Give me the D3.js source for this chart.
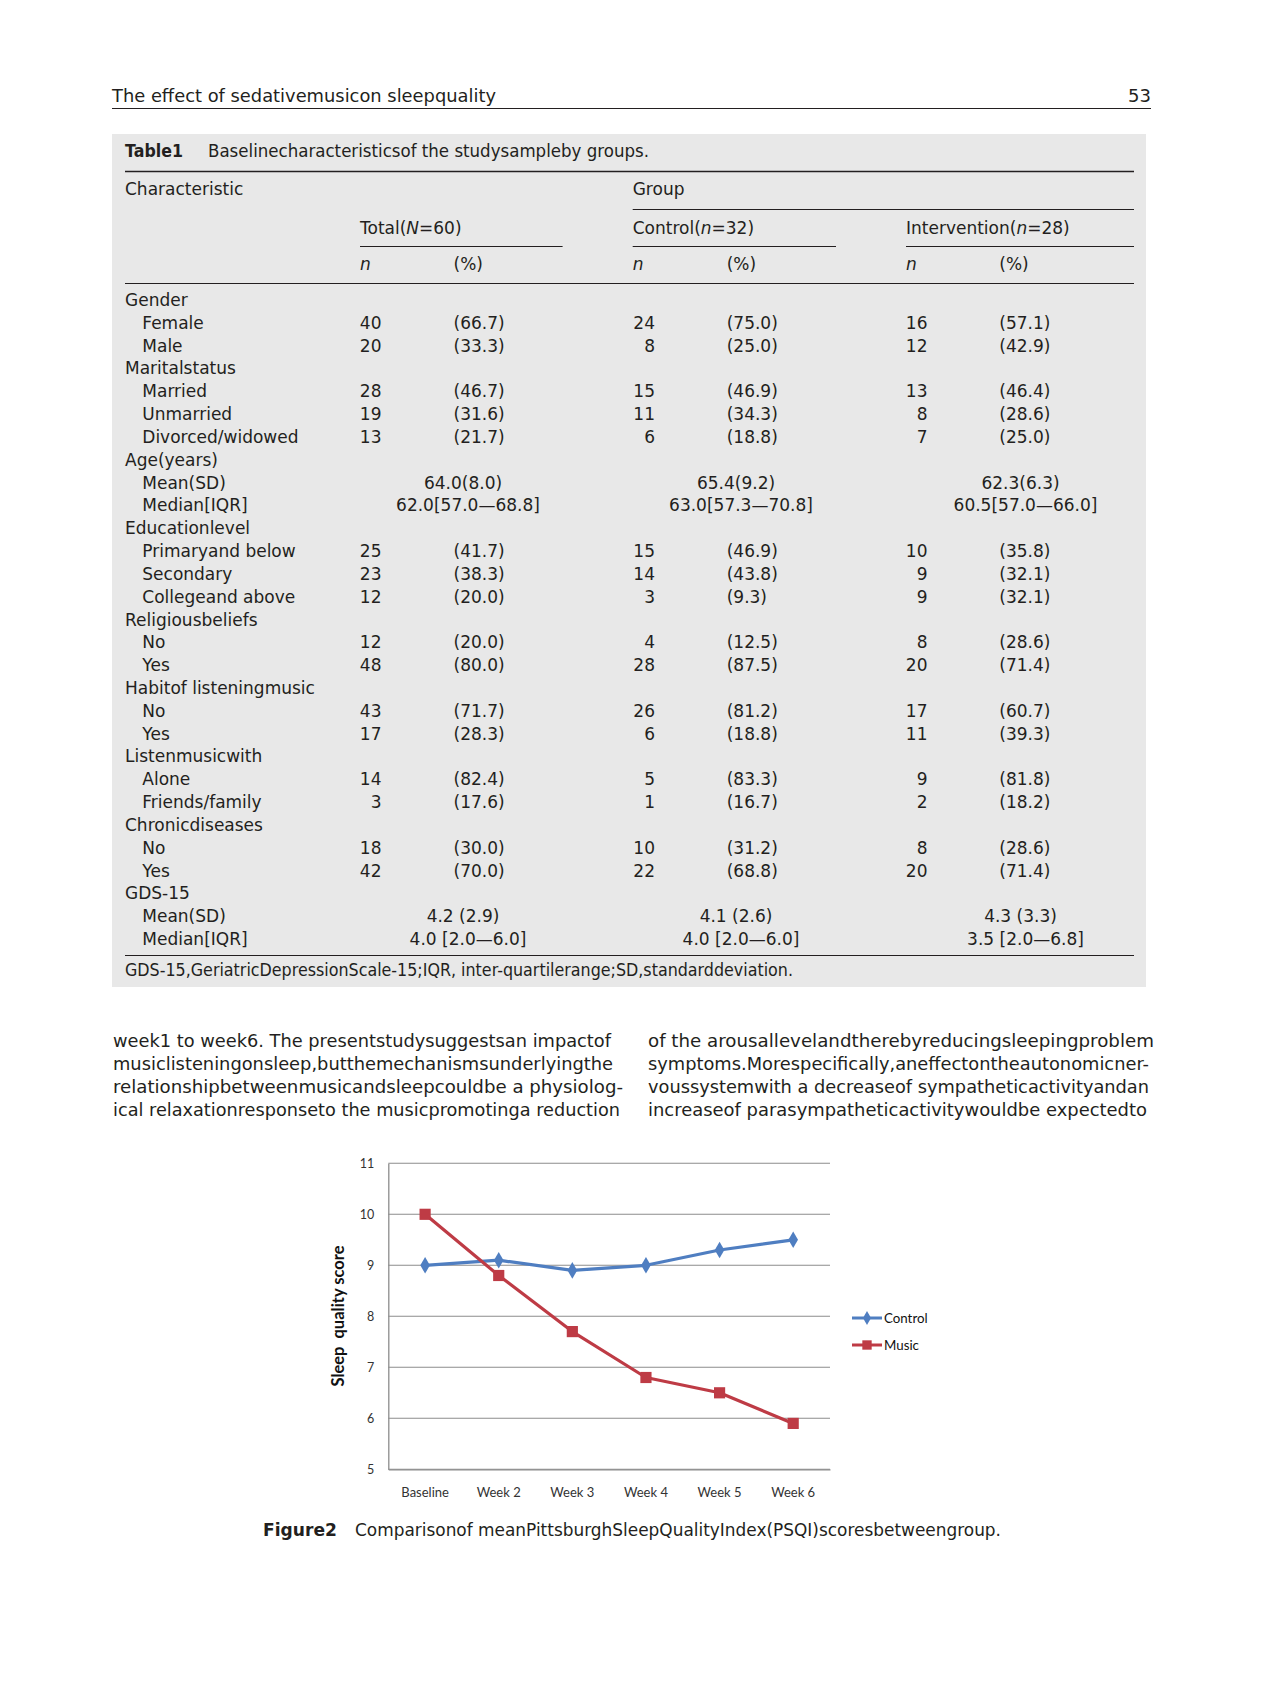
<!DOCTYPE html>
<html>
<head>
<meta charset="utf-8">
<script src="https://cdn.jsdelivr.net/npm/d3@7"></script>
<style>
  html, body { margin: 0; padding: 0; background: #ffffff; }
  svg { display: block; }
</style>
</head>
<body>
<svg id="page" width="1276" height="1690"></svg>
<script>
// ---------------- DATA ----------------
const headerTitle = "The effect of sedativemusicon sleepquality";
const pageNumber = "53";
const tableTitleBold = "Table1";
const tableTitleText = "Baselinecharacteristicsof the studysampleby groups.";
const colHeaders = ["Total(N=60)", "Control(n=32)", "Intervention(n=28)"];
const rowLabels = [
  "Gender", "Female", "Male",
  "Maritalstatus", "Married", "Unmarried", "Divorced/widowed",
  "Age(years)", "Mean(SD)", "Median[IQR]",
  "Educationlevel", "Primaryand below", "Secondary", "Collegeand above",
  "Religiousbeliefs", "No", "Yes",
  "Habitof listeningmusic", "No", "Yes",
  "Listenmusicwith", "Alone", "Friends/family",
  "Chronicdiseases", "No", "Yes",
  "GDS-15", "Mean(SD)", "Median[IQR]"
];
const rowLevels = [0,1,1, 0,1,1,1, 0,1,1, 0,1,1,1, 0,1,1, 0,1,1, 0,1,1, 0,1,1, 0,1,1];
const totalN   = ["","40","20", "","28","19","13", "","","", "","25","23","12", "","12","48", "","43","17", "","14","3", "","18","42", "","",""];
const totalPct = ["","(66.7)","(33.3)", "","(46.7)","(31.6)","(21.7)", "","","", "","(41.7)","(38.3)","(20.0)", "","(20.0)","(80.0)", "","(71.7)","(28.3)", "","(82.4)","(17.6)", "","(30.0)","(70.0)", "","",""];
const controlN   = ["","24","8", "","15","11","6", "","","", "","15","14","3", "","4","28", "","26","6", "","5","1", "","10","22", "","",""];
const controlPct = ["","(75.0)","(25.0)", "","(46.9)","(34.3)","(18.8)", "","","", "","(46.9)","(43.8)","(9.3)", "","(12.5)","(87.5)", "","(81.2)","(18.8)", "","(83.3)","(16.7)", "","(31.2)","(68.8)", "","",""];
const interN   = ["","16","12", "","13","8","7", "","","", "","10","9","9", "","8","20", "","17","11", "","9","2", "","8","20", "","",""];
const interPct = ["","(57.1)","(42.9)", "","(46.4)","(28.6)","(25.0)", "","","", "","(35.8)","(32.1)","(32.1)", "","(28.6)","(71.4)", "","(60.7)","(39.3)", "","(81.8)","(18.2)", "","(28.6)","(71.4)", "","",""];
const summaryRows = [8, 9, 27, 28];
const totalSummary   = ["64.0(8.0)", "62.0[57.0—68.8]", "4.2 (2.9)", "4.0 [2.0—6.0]"];
const controlSummary = ["65.4(9.2)", "63.0[57.3—70.8]", "4.1 (2.6)", "4.0 [2.0—6.0]"];
const interSummary   = ["62.3(6.3)", "60.5[57.0—66.0]", "4.3 (3.3)", "3.5 [2.0—6.8]"];
const tableFootnote = "GDS-15,GeriatricDepressionScale-15;IQR, inter-quartilerange;SD,standarddeviation.";

const leftParagraph = [
  "week1 to week6. The presentstudysuggestsan impactof",
  "musiclisteningonsleep,butthemechanismsunderlyingthe",
  "relationshipbetweenmusicandsleepcouldbe a physiolog-",
  "ical relaxationresponseto the musicpromotinga reduction"
];
const rightParagraph = [
  "of the arousallevelandtherebyreducingsleepingproblem",
  "symptoms.Morespecifically,aneffectontheautonomicner-",
  "voussystemwith a decreaseof sympatheticactivityandan",
  "increaseof parasympatheticactivitywouldbe expectedto"
];

const categories = ["Baseline", "Week 2", "Week 3", "Week 4", "Week 5", "Week 6"];
const controlScores = [9.0, 9.1, 8.9, 9.0, 9.3, 9.5];
const musicScores = [10.0, 8.8, 7.7, 6.8, 6.5, 5.9];
const seriesNames = ["Control", "Music"];
const yTicks = [5, 6, 7, 8, 9, 10, 11];
const yAxisTitle = "Sleep  quality score";
const figureBold = "Figure2";
const figureText = "Comparisonof meanPittsburghSleepQualityIndex(PSQI)scoresbetweengroup.";

// ---------------- DRAW ----------------
const svg = d3.select("#page");
const FONT = "'DejaVu Sans', sans-serif";
const CFONT = "Lato, 'Open Sans', sans-serif";
const INK = "#231f20";

// running header
svg.append("text").attr("x", 112).attr("y", 102).attr("font-family", FONT).attr("font-size", 18)
  .attr("fill", INK).attr("textLength", 384).attr("lengthAdjust", "spacingAndGlyphs").text(headerTitle);
svg.append("text").attr("x", 1151).attr("y", 102).attr("text-anchor", "end").attr("font-family", FONT)
  .attr("font-size", 18).attr("fill", INK).text(pageNumber);
svg.append("line").attr("x1", 112).attr("x2", 1151).attr("y1", 108.5).attr("y2", 108.5)
  .attr("stroke", INK).attr("stroke-width", 1);

// table background
svg.append("rect").attr("x", 112).attr("y", 134).attr("width", 1034).attr("height", 853).attr("fill", "#e8e8e8");

const T = svg.append("g").attr("font-family", FONT).attr("font-size", 17).attr("fill", INK);
T.append("text").attr("x", 125).attr("y", 157).attr("font-weight", "bold")
  .attr("textLength", 58).attr("lengthAdjust", "spacingAndGlyphs").text(tableTitleBold);
T.append("text").attr("x", 208).attr("y", 157)
  .attr("textLength", 441).attr("lengthAdjust", "spacingAndGlyphs").text(tableTitleText);

const hline = (x1, x2, y, w) => svg.append("line").attr("x1", x1).attr("x2", x2).attr("y1", y).attr("y2", y)
  .attr("stroke", INK).attr("stroke-width", w);
hline(125, 1134, 171.5, 1.6);
T.append("text").attr("x", 125).attr("y", 195).text("Characteristic");
T.append("text").attr("x", 632.7).attr("y", 195).text("Group");
hline(632.7, 1134, 209.5, 1);

const colLeft = [360, 632.7, 906];
const colLineEnd = [562.6, 836, 1134];
const nRight = [381.5, 655, 927.5];
const pctLeft = [453.5, 726.7, 999.3];
const sumCenter = [465.5, 738.5, 1023];

colHeaders.forEach((h, i) => {
  const m = h.match(/^(.*\()([Nn])(=\d+\))$/);
  const t = T.append("text").attr("x", colLeft[i]).attr("y", 233.5);
  t.append("tspan").text(m[1]);
  t.append("tspan").attr("font-style", "italic").text(m[2]);
  t.append("tspan").text(m[3]);
  hline(colLeft[i], colLineEnd[i], 246.5, 1);
  T.append("text").attr("x", colLeft[i]).attr("y", 270).attr("font-style", "italic").text("n");
  T.append("text").attr("x", pctLeft[i]).attr("y", 270).text("(%)");
});
hline(125, 1134, 283.5, 1);

const rowY = d3.scaleLinear().domain([0, rowLabels.length - 1]).range([306, 945]);
T.selectAll("text.lab").data(rowLabels).join("text").attr("class", "lab")
  .attr("x", (d, i) => rowLevels[i] ? 142.3 : 125).attr("y", (d, i) => rowY(i)).text(d => d);

[[totalN, totalPct], [controlN, controlPct], [interN, interPct]].forEach(([ns, ps], c) => {
  T.selectAll("text.n" + c).data(ns).join("text").attr("class", "n" + c)
    .attr("x", nRight[c]).attr("y", (d, i) => rowY(i)).attr("text-anchor", "end").text(d => d);
  T.selectAll("text.p" + c).data(ps).join("text").attr("class", "p" + c)
    .attr("x", pctLeft[c]).attr("y", (d, i) => rowY(i)).text(d => d);
});
[totalSummary, controlSummary, interSummary].forEach((vals, c) => {
  T.selectAll("text.s" + c).data(vals).join("text").attr("class", "s" + c)
    .attr("x", (d, i) => sumCenter[c] + (i % 2 === 0 ? -2.5 : 2.5))
    .attr("y", (d, i) => rowY(summaryRows[i])).attr("text-anchor", "middle").text(d => d);
});
hline(125, 1134, 955.5, 1);
T.append("text").attr("x", 125).attr("y", 976)
  .attr("textLength", 668).attr("lengthAdjust", "spacingAndGlyphs").text(tableFootnote);

// body paragraphs
const P = svg.append("g").attr("font-family", FONT).attr("font-size", 18).attr("fill", INK);
const leftEnds = [611, 613, 623, 620];
const rightEnds = [1154, 1149, 1149, 1147];
P.selectAll("text.lp").data(leftParagraph).join("text").attr("class", "lp")
  .attr("x", 113).attr("y", (d, i) => 1047 + i * 22.9)
  .attr("textLength", (d, i) => leftEnds[i] - 113).attr("lengthAdjust", "spacingAndGlyphs").text(d => d);
P.selectAll("text.rp").data(rightParagraph).join("text").attr("class", "rp")
  .attr("x", 648).attr("y", (d, i) => 1047 + i * 22.9)
  .attr("textLength", (d, i) => rightEnds[i] - 648).attr("lengthAdjust", "spacingAndGlyphs").text(d => d);

// ---------------- CHART ----------------
const x = d3.scaleBand().domain(categories).range([388.3, 830]).padding(0);
const y = d3.scaleLinear().domain([5, 11]).range([1469.3, 1163.3]);
const GRID = "#8c8c8c";
const C = svg.append("g");

// gridlines
C.selectAll("line.grid").data(yTicks).join("line").attr("class", "grid")
  .attr("x1", 388.3).attr("x2", 830).attr("y1", d => y(d)).attr("y2", d => y(d))
  .attr("stroke", GRID).attr("stroke-width", 1.1);

// y axis
const yAxis = C.append("g").attr("transform", "translate(388.3,0)")
  .call(d3.axisLeft(y).tickValues(yTicks).tickSize(0).tickPadding(14).tickFormat(d3.format("d")));
yAxis.select(".domain").attr("stroke", GRID).attr("stroke-width", 1.3);
yAxis.selectAll("text").attr("font-family", CFONT).attr("font-size", 12.5).attr("fill", "#333");

// x axis labels
const xAxis = C.append("g").attr("transform", "translate(0,1469.3)")
  .call(d3.axisBottom(x).tickSize(0).tickPadding(18));
xAxis.select(".domain").attr("stroke", GRID).attr("stroke-width", 1.3);
xAxis.selectAll("text").attr("font-family", CFONT).attr("font-size", 13).attr("fill", "#333");

// y title
C.append("text").attr("transform", "translate(344,1316) rotate(-90)").attr("text-anchor", "middle")
  .attr("font-family", CFONT).attr("font-weight", "bold").attr("font-size", 16.5).attr("fill", "#111")
  .attr("xml:space", "preserve").style("white-space", "pre").text(yAxisTitle);

const colors = ["#4f7ec1", "#be3b45"];
const symbols = [d3.symbolDiamond, d3.symbolSquare];
const symSizes = [80, 125];
const line = d3.line().x((d, i) => x(categories[i]) + x.bandwidth() / 2).y(d => y(d));
[controlScores, musicScores].forEach((vals, s) => {
  C.append("path").datum(vals).attr("d", line).attr("fill", "none")
    .attr("stroke", colors[s]).attr("stroke-width", 3.2).attr("stroke-linejoin", "round");
  C.selectAll("path.m" + s).data(vals).join("path").attr("class", "m" + s)
    .attr("transform", (d, i) => `translate(${x(categories[i]) + x.bandwidth() / 2},${y(d)})`)
    .attr("d", d3.symbol().type(symbols[s]).size(symSizes[s])).attr("fill", colors[s]);
});

// legend
const legendY = d3.scalePoint().domain(seriesNames).range([1318, 1345]);
seriesNames.forEach((name, s) => {
  const ly = legendY(name);
  C.append("line").attr("x1", 852).attr("x2", 882).attr("y1", ly).attr("y2", ly)
    .attr("stroke", colors[s]).attr("stroke-width", 3);
  C.append("path").attr("transform", `translate(867,${ly})`)
    .attr("d", d3.symbol().type(symbols[s]).size(symSizes[s] * 0.7)).attr("fill", colors[s]);
  C.append("text").attr("x", 884).attr("y", ly + 4.5).attr("font-family", CFONT).attr("font-size", 13.3)
    .attr("fill", "#111").text(name);
});

// figure caption
const F = svg.append("g").attr("font-family", FONT).attr("font-size", 17).attr("fill", INK);
F.append("text").attr("x", 263).attr("y", 1536).attr("font-weight", "bold")
  .attr("textLength", 74).attr("lengthAdjust", "spacingAndGlyphs").text(figureBold);
F.append("text").attr("x", 355).attr("y", 1536)
  .attr("textLength", 646).attr("lengthAdjust", "spacingAndGlyphs").text(figureText);
</script>
</body>
</html>
